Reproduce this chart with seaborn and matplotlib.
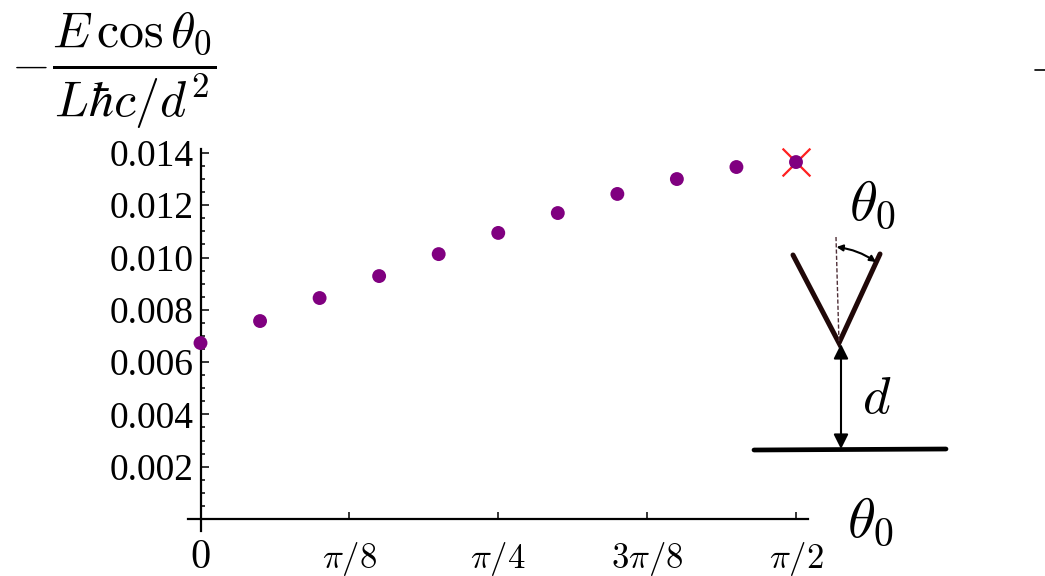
import matplotlib

matplotlib.use("Agg")
import matplotlib.pyplot as plt
import numpy as np
import pandas as pd
import seaborn as sns
from matplotlib.ticker import MultipleLocator

sns.set_style("ticks")
plt.rcParams["font.family"] = ["Liberation Serif", "DejaVu Serif"]
plt.rcParams["mathtext.fontset"] = "cm"
plt.rcParams["text.color"] = "black"
plt.rcParams["xtick.labelcolor"] = "black"
plt.rcParams["ytick.labelcolor"] = "black"

# values
theta = [0.0, 0.1571, 0.3142, 0.4712, 0.6283, 0.7854, 0.9425, 1.0996, 1.2566, 1.4137, 1.5708]
energy = [0.00673, 0.00757, 0.00845, 0.00929, 0.01013, 0.01094, 0.0117, 0.01243, 0.0130, 0.01346, 0.01365]
crossed_theta = [1.5708]
crossed_energy = [0.01365]
x_ticks = [0.0, 0.3927, 0.7854, 1.1781, 1.5708]
x_labels = ["$0$", r"$\pi/8$", r"$\pi/4$", r"$3\pi/8$", r"$\pi/2$"]
y_ticks = [0.002, 0.004, 0.006, 0.008, 0.010, 0.012, 0.014]
y_labels = ["0.002", "0.004", "0.006", "0.008", "0.010", "0.012", "0.014"]

W, H = 1045, 576
PURPLE = "#800080"
DARK = "#200808"

df = pd.DataFrame({"theta": theta, "energy": energy})

fig = plt.figure(figsize=(W / 100, H / 100), dpi=100)

# axes box in pixels of the image
left, right, top, bottom = 188, 808, 149, 531
ax = fig.add_axes([left / W, 1 - bottom / H, (right - left) / W, (bottom - top) / H])
ax.patch.set_alpha(0)
ax.set_xlim((left - 200.5) / 379.1, (right - 200.5) / 379.1)
ax.set_ylim((519 - bottom) / 26150, (519 - top) / 26150)

sns.scatterplot(x=crossed_theta, y=crossed_energy, marker="x", s=400, color="#ff2020",
                linewidth=1.6, clip_on=False, zorder=3, ax=ax)
sns.scatterplot(data=df, x="theta", y="energy", color=PURPLE, s=100, edgecolor="none",
                clip_on=False, zorder=4, ax=ax)

ax.set_xlabel("")
ax.set_ylabel("")
ax.spines["top"].set_visible(False)
ax.spines["right"].set_visible(False)
ax.spines["left"].set_position(("data", 0))
ax.spines["bottom"].set_position(("data", 0))
ax.spines["left"].set_linewidth(1.6)
ax.spines["bottom"].set_linewidth(1.6)
ax.spines["left"].set_color("black")
ax.spines["bottom"].set_color("black")

ax.set_xticks(x_ticks)
ax.set_xticklabels(x_labels, fontsize=25, va="baseline")
ax.xaxis.get_ticklabels()[0].set_fontsize(29)
ax.set_yticks(y_ticks)
ax.set_yticklabels(y_labels, fontsize=27)
ax.yaxis.set_minor_locator(MultipleLocator(0.0005))
ax.tick_params(axis="x", direction="in", length=5, width=1.1, pad=35, color="black")
ax.tick_params(axis="y", which="major", direction="in", length=5.5, width=1.1, pad=5, color="black")
ax.tick_params(axis="y", which="minor", direction="in", length=2.8, width=1.1, color="black")

# overlay in image pixels for the labels and the sketch
over = fig.add_axes([0, 0, 1, 1])
over.set_xlim(0, W)
over.set_ylim(H, 0)
over.axis("off")
over.patch.set_alpha(0)

over.text(29, 66, r"$-$", fontsize=36, ha="center", va="center")
over.text(134, 70, r"$\dfrac{E\,\cos\theta_0}{L\hbar c/d^2}$", fontsize=36, ha="center", va="center")
over.plot([1035, 1045], [70, 70], color="black", lw=1.2)

over.text(872, 205, r"$\theta_0$", fontsize=41, ha="center", va="center")
over.text(870, 522, r"$\theta_0$", fontsize=41, ha="center", va="center")
over.text(877, 400, r"$d$", fontsize=38, ha="center", va="center")

over.plot([793, 839, 880], [255, 343, 254], color=DARK, lw=3.6, solid_joinstyle="miter",
          solid_capstyle="round")
over.plot([836, 839], [237, 343], color="#503038", lw=1, ls=(0, (3, 1.5)))
over.plot([754, 946], [450, 449], color="black", lw=3.4)
over.annotate("", xy=(841, 344), xytext=(841, 449),
              arrowprops=dict(arrowstyle="<|-|>", color="black", lw=1.5, mutation_scale=22,
                              shrinkA=0, shrinkB=0))
over.annotate("", xy=(836.5, 247), xytext=(876, 262),
              arrowprops=dict(arrowstyle="<|-|>", color="black", lw=1.5, mutation_scale=9,
                              shrinkA=0, shrinkB=0, connectionstyle="arc3,rad=0.12"))

fig.savefig("out.png", dpi=100)
